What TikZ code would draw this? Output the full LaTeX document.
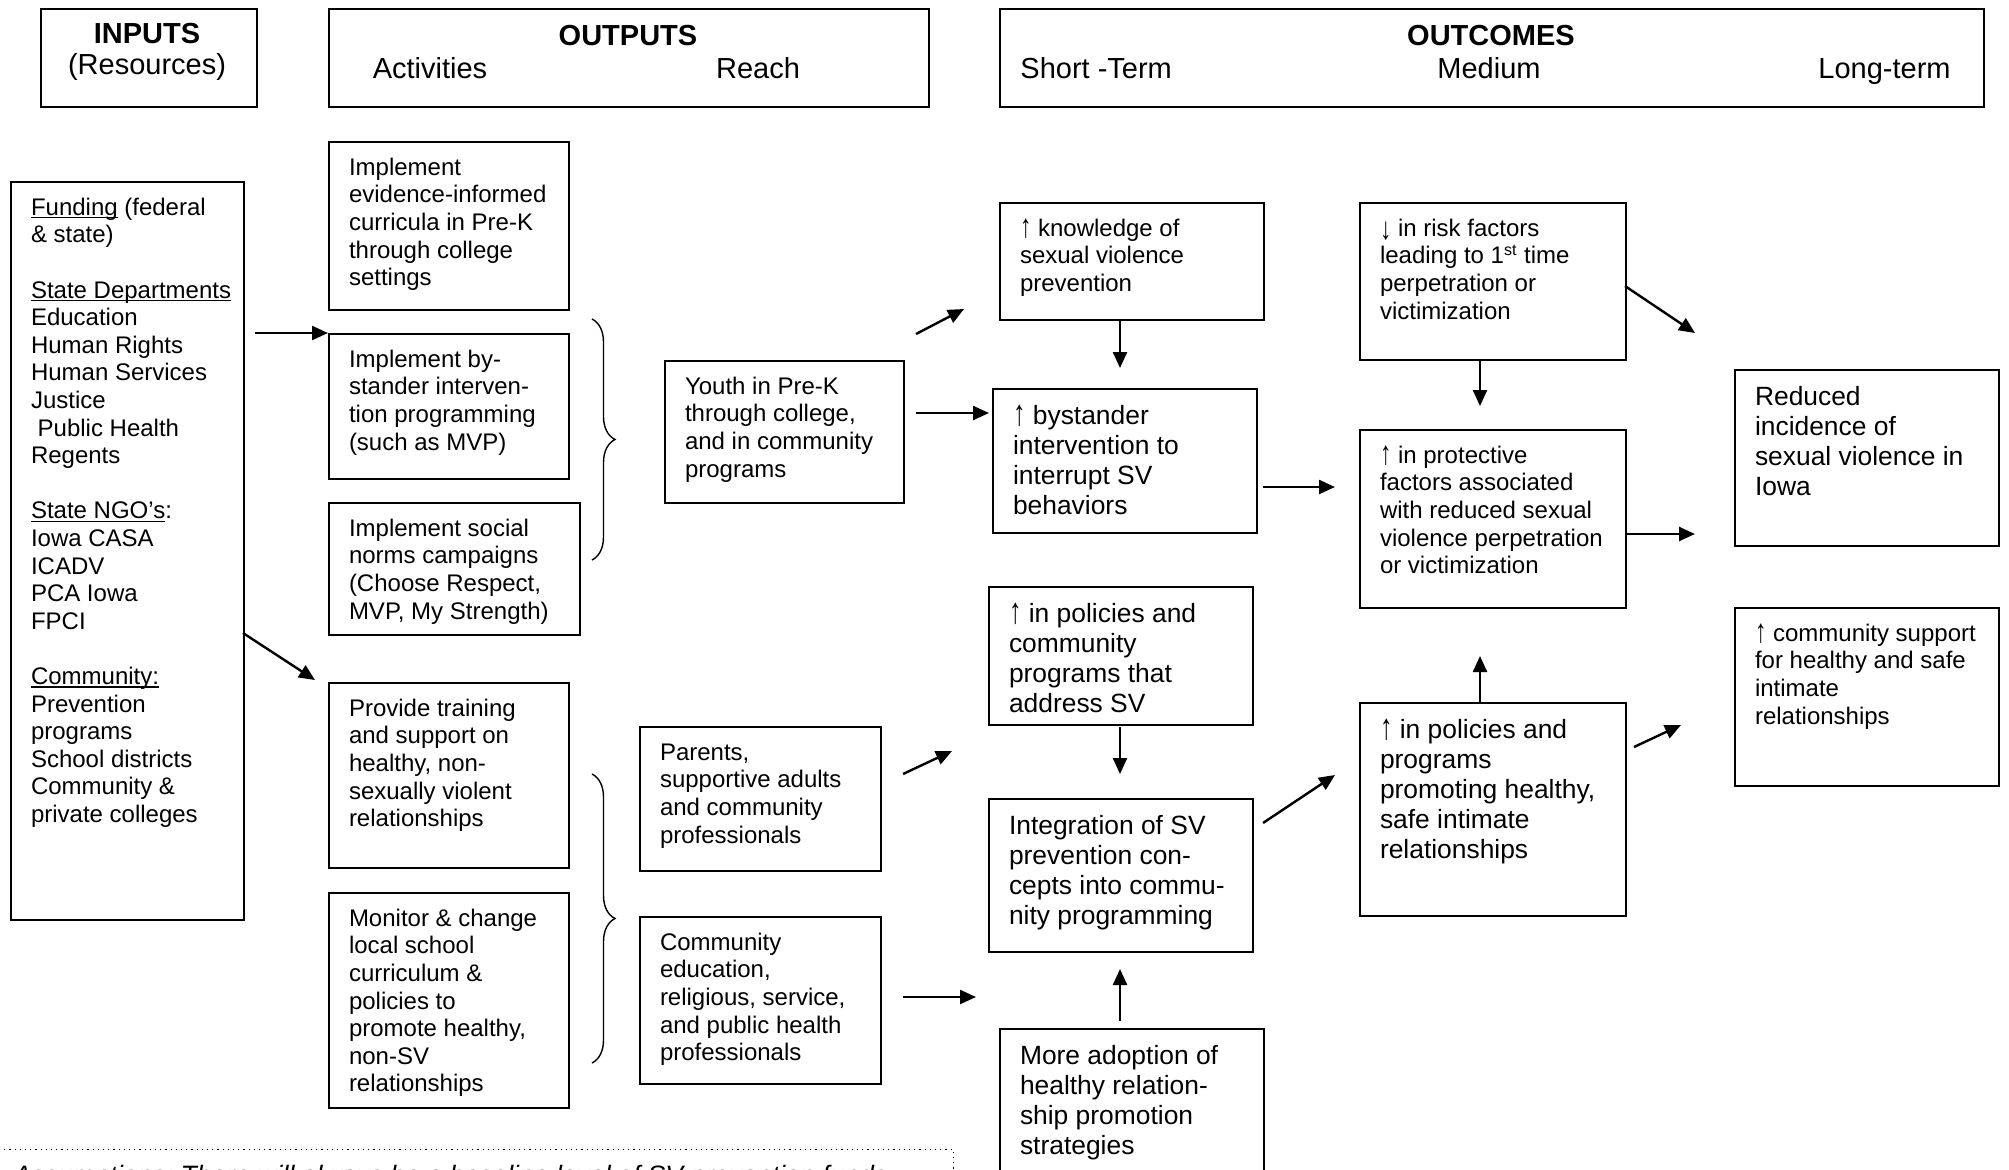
\documentclass[tikz,border=0pt]{standalone}
\usepackage{fontspec}
\usepackage{graphicx}
\setmainfont{Liberation Sans}
\usetikzlibrary{arrows.meta,decorations.pathreplacing}
\newlength\pxu
\setlength\pxu{0.5pt}
\newcommand\fnorm{\fontsize{12}{13.8}\selectfont}
\newcommand\fbig{\fontsize{13.2}{15.1}\selectfont}
\newcommand\fhead{\fontsize{14.5}{16}\selectfont}
\newcommand\uln[1]{\leavevmode\setbox0\hbox{#1}\rlap{\rule[-1.5pt]{\wd0}{0.6pt}}\box0\relax}
\newcommand\upa{\raisebox{-0.06em}{\scalebox{0.95}[1.38]{↑}}}
\newcommand\dna{\raisebox{-0.12em}{\scalebox{0.95}[1.3]{↓}}}
\newcommand\bx[7]{\node[box] (#1) at (#2,#3) {\hspace*{20\pxu}\parbox[t][\dimexpr#5\pxu-28\pxu\relax][t]{\dimexpr#4\pxu-24\pxu\relax}{#6\raggedright\strut#7}\hspace*{4\pxu}};}
\begin{document}
\begin{tikzpicture}[x=0.5pt,y=-0.5pt,
 box/.style={draw, line width=1pt, inner xsep=0pt, inner ysep=7pt, anchor=north west},
 hdr/.style={draw, line width=1pt, anchor=north west, inner sep=0pt, minimum height=49pt},
 htxt/.style={inner sep=0pt, font=\fhead},
 arr/.style={line width=1.2pt, -{Triangle[length=8pt,width=7pt]}},
 brc/.style={decorate, decoration={brace, amplitude=11.5pt}, line width=0.7pt}]
\useasboundingbox (0,0) rectangle (2009,1169);
\clip (0,0) rectangle (2009,1169);
% header boxes
\node[hdr, minimum width=108pt] (hIn) at (40,8) {};
\node[hdr, minimum width=300pt] (hOut) at (328,8) {};
\node[hdr, minimum width=492pt] (hOutc) at (999,8) {};
\node[htxt, font=\fhead\bfseries, anchor=base] (tIn) at (147,43) {INPUTS};
\node[htxt, anchor=base] (tRes) at (147,74) {(Resources)};
\node[htxt, font=\fhead\bfseries, anchor=base] (tOut) at (628,45) {OUTPUTS};
\node[htxt, anchor=base] (tAct) at (430,78) {Activities};
\node[htxt, anchor=base] (tReach) at (758,78) {Reach};
\node[htxt, font=\fhead\bfseries, anchor=base] (tOutc) at (1491,45) {OUTCOMES};
\node[htxt, anchor=base west] (tST) at (1020,78) {Short -Term};
\node[htxt, anchor=base] (tMed) at (1489,78) {Medium};
\node[htxt, anchor=base east] (tLT) at (1951,78) {Long-term};
% inputs
\bx{Inp}{10}{181}{233}{738}{\fnorm}{\uln{Funding} (federal\\ \& state)\\[\baselineskip]\uln{State Departments}\\Education\\Human Rights\\Human Services\\Justice\\\hspace*{0.28em}Public Health\\Regents\\[\baselineskip]\uln{State NGO’s}:\\Iowa CASA\\ICADV\\PCA Iowa\\FPCI\\[\baselineskip]\uln{Community:}\\Prevention\\programs\\School districts\\Community \&\\private colleges}
% activities
\bx{A1}{328}{141}{240}{168}{\fnorm}{Implement\\evidence-informed\\curricula in Pre-K\\through college\\settings}
\bx{A2}{328}{333}{240}{145}{\fnorm}{Implement by-\\stander interven-\\tion programming\\(such as MVP)}
\bx{A3}{328}{502}{251}{132}{\fnorm}{Implement social\\norms campaigns\\(Choose Respect,\\MVP, My Strength)}
\bx{A4}{328}{682}{240}{185}{\fnorm}{Provide training\\and support on\\healthy, non-\\sexually violent\\relationships}
\bx{A5}{328}{892}{240}{215}{\fnorm}{Monitor \& change\\local school\\curriculum \&\\policies to\\promote healthy,\\non-SV\\relationships}
% reach
\bx{R1}{664}{360}{239}{142}{\fnorm}{Youth in Pre-K\\through college,\\and in community\\programs}
\bx{R2}{639}{726}{241}{144}{\fnorm}{Parents,\\supportive adults\\and community\\professionals}
\bx{R3}{639}{916}{241}{167}{\fnorm}{Community\\education,\\religious, service,\\and public health\\professionals}
% short-term
\bx{S1}{999}{202}{264}{117}{\fnorm}{\upa{} knowledge of\\sexual violence\\prevention}
\bx{S2}{992}{388}{264}{144}{\fbig}{\upa{} bystander\\intervention to\\interrupt SV\\behaviors}
\bx{S3}{988}{586}{264}{138}{\fbig}{\upa{} in policies and\\community\\programs that\\address SV}
\bx{S4}{988}{798}{264}{153}{\fbig}{Integration of SV\\prevention con-\\cepts into commu-\\nity programming}
\bx{S5}{999}{1028}{264}{200}{\fbig}{More adoption of\\healthy relation-\\ship promotion\\strategies}
% medium
\bx{M1}{1359}{202}{266}{157}{\fnorm}{\dna{} in risk factors\\leading to 1\textsuperscript{st} time\\perpetration or\\victimization}
\bx{M2}{1359}{429}{266}{178}{\fnorm}{\upa{} in protective\\factors associated\\with reduced sexual\\violence perpetration\\or victimization}
\bx{M3}{1359}{702}{266}{213}{\fbig}{\upa{} in policies and\\programs\\promoting healthy,\\safe intimate\\relationships}
% long-term
\bx{L1}{1734}{369}{264}{176}{\fbig}{Reduced\\incidence of\\sexual violence in\\Iowa}
\bx{L2}{1734}{607}{264}{178}{\fnorm}{\upa{} community support\\for healthy and safe\\intimate\\relationships}
% assumptions (dotted, cut off)
\node[draw, dotted, line width=0.6pt, anchor=north west, inner xsep=0pt, inner ysep=7pt] (asm) at (-10,1149) {\hspace*{23\pxu}\parbox[t][60pt][t]{470pt}{\fontsize{13.3}{15}\selectfont\itshape\strut Assumptions:\ There will always be a baseline level of SV prevention funds}};
% braces
\draw[brc] (592,319) -- (592,560);
\draw[brc] (592,774) -- (592,1063);
% arrows
\foreach \n/\a/\b/\c/\d in {
  a1/255/333/328/333,
  a2/243/633/315/680,
  a3/916/334/964/309,
  a4/916/413/989/413,
  a5/1120/319/1120/368,
  a6/1263/487/1335/487,
  a7/1480/359/1480/406,
  a8/1625/286/1695/333,
  a9/1625/534/1695/534,
  a10/1480/702/1480/656,
  a11/1634/747/1681/725,
  a12/903/774/952/751,
  a13/903/997/976/997,
  a14/1120/727/1120/774,
  a15/1120/1021/1120/969,
  a16/1263/823/1335/775}
{\coordinate (\n s) at (\a,\b); \coordinate (\n e) at (\c,\d); \draw[arr] (\n s) -- (\n e);}
\end{tikzpicture}
\end{document}
